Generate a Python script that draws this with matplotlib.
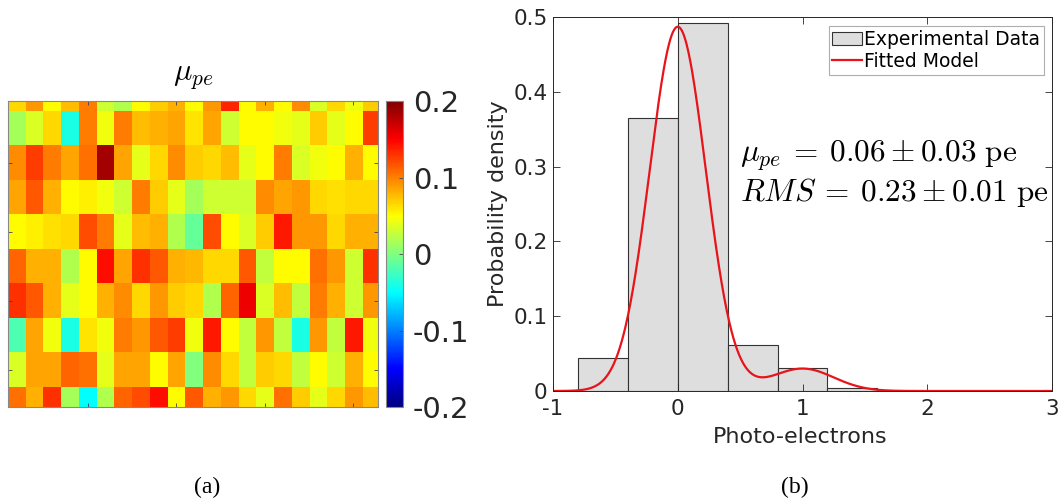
import numpy as np
import matplotlib
matplotlib.use("Agg")
import matplotlib.pyplot as plt
from matplotlib.colors import LinearSegmentedColormap
from matplotlib.patches import Patch
from matplotlib.lines import Line2D

plt.rcParams['font.family'] = ['DejaVu Sans']
plt.rcParams['mathtext.fontset'] = 'cm'

# per-pixel mean photo-electrons (10 rows x 21 columns)
mu_map = [
    [0.065, 0.090, 0.050, 0.075, 0.100, 0.030, 0.020, 0.050, 0.070, 0.080, 0.050, 0.090, 0.135, 0.050, 0.080, 0.050, 0.095, 0.035, 0.065, 0.045, 0.070],
    [0.015, 0.035, 0.065, -0.040, 0.100, 0.045, 0.100, 0.075, 0.080, 0.085, 0.060, 0.085, 0.030, 0.050, 0.050, 0.045, 0.040, 0.070, 0.040, 0.050, 0.125],
    [0.095, 0.125, 0.100, 0.085, 0.105, 0.185, 0.085, 0.040, 0.065, 0.095, 0.070, 0.065, 0.075, 0.040, 0.050, 0.100, 0.035, 0.045, 0.050, 0.080, 0.050],
    [0.085, 0.115, 0.080, 0.050, 0.055, 0.045, 0.030, 0.100, 0.070, 0.040, 0.015, 0.030, 0.030, 0.030, 0.095, 0.085, 0.090, 0.065, 0.062, 0.065, 0.065],
    [0.050, 0.055, 0.062, 0.065, 0.120, 0.100, 0.040, 0.075, 0.080, 0.020, -0.010, 0.120, 0.050, 0.035, 0.070, 0.140, 0.090, 0.090, 0.065, 0.080, 0.080],
    [0.110, 0.080, 0.080, 0.020, 0.050, 0.145, 0.085, 0.130, 0.115, 0.080, 0.078, 0.065, 0.065, 0.115, 0.025, 0.050, 0.050, 0.105, 0.090, 0.030, 0.130],
    [0.130, 0.115, 0.080, 0.040, 0.050, 0.080, 0.095, 0.065, 0.090, 0.070, 0.065, 0.020, 0.110, 0.155, 0.035, 0.075, 0.025, 0.100, 0.080, 0.030, 0.090],
    [-0.020, 0.085, 0.045, -0.040, 0.060, 0.045, 0.100, 0.090, 0.115, 0.125, 0.045, 0.140, 0.050, 0.025, 0.090, 0.025, -0.040, 0.090, 0.025, 0.140, 0.045],
    [0.035, 0.085, 0.085, 0.110, 0.105, 0.040, 0.085, 0.085, 0.050, 0.085, 0.000, 0.095, 0.065, 0.025, 0.070, 0.065, 0.025, 0.050, 0.030, 0.080, 0.050],
    [0.105, 0.080, 0.130, 0.015, -0.050, 0.020, 0.110, 0.120, 0.145, 0.050, 0.115, 0.080, 0.090, 0.065, 0.040, 0.105, 0.070, 0.040, 0.065, 0.090, 0.075],
]

# photo-electron histogram (probability per bin)
bin_edges = [-0.8, -0.4, 0.0, 0.4, 0.8, 1.2, 1.6]
bin_prob = [0.044, 0.365, 0.492, 0.062, 0.031, 0.004]

# fitted model: gaussian peaks for 0 and 1 photo-electron
peak_pos = [0.0, 1.0]
peak_height = [0.487, 0.030]
peak_sigma = [0.225, 0.25]

cbar_ticks = [-0.2, -0.1, 0.0, 0.1, 0.2]
cbar_labels = ['-0.2', '-0.1', '0', '0.1', '0.2']

# matlab-style jet
jet_m = LinearSegmentedColormap.from_list('jet_m', [
    (0.0, (0, 0, 0.5)), (0.125, (0, 0, 1)), (0.375, (0, 1, 1)),
    (0.625, (1, 1, 0)), (0.875, (1, 0, 0)), (1.0, (0.5, 0, 0))])

W, H = 1059, 499
fig = plt.figure(figsize=(W / 100, H / 100), dpi=100)

def px_axes(x0, y0, x1, y1):
    return fig.add_axes([x0 / W, 1 - y1 / H, (x1 - x0) / W, (y1 - y0) / H])

# (a) map
ax1 = px_axes(8, 101, 378, 407)
data = np.array(mu_map)
nr, nc = data.shape
im = ax1.imshow(data, cmap=jet_m, vmin=-0.2, vmax=0.2, aspect='auto',
                interpolation='nearest', extent=(0.5, nc + 0.5, nr - 0.5, -0.5))
ax1.set_xlim(0.5, 21.4)
ax1.set_ylim(9.08, 0.21)
ax1.set_xticks([5, 10, 15, 20])
ax1.set_yticks([2, 4, 6, 8])
ax1.tick_params(direction='in', length=3, width=0.6, top=True, right=True,
                labelbottom=False, labelleft=False, color='#444444')
for s in ax1.spines.values():
    s.set_color('#888888')
    s.set_linewidth(0.8)
ax1.set_title(r'$\mu_{pe}$', fontsize=22, pad=15)

cax = px_axes(386, 101, 403, 407)
cb = fig.colorbar(im, cax=cax, ticks=cbar_ticks)
cb.ax.set_yticklabels(cbar_labels)
cb.ax.tick_params(direction='in', length=3, width=0.6, labelsize=21,
                  pad=7, color='#444444', labelcolor='#262626')
cb.outline.set_edgecolor('#888888')
cb.outline.set_linewidth(0.8)

# (b) histogram + fit
ax2 = px_axes(553, 17, 1052, 391)
lefts = np.array(bin_edges[:-1])
widths = np.diff(bin_edges)
ax2.bar(lefts, bin_prob, width=widths, align='edge', color='#dedede',
        edgecolor='#333333', linewidth=0.8)
xs = np.linspace(-1, 3, 800)
model = np.zeros_like(xs)
for m, h, s in zip(peak_pos, peak_height, peak_sigma):
    model += h * np.exp(-(xs - m) ** 2 / (2 * s ** 2))
ax2.plot(xs, model, color='#e8141a', lw=1.6)

ax2.set_xlim(-1, 3)
ax2.set_ylim(0, 0.5)
ax2.set_xticks([-1, 0, 1, 2, 3])
ax2.set_xticklabels(['-1', '0', '1', '2', '3'])
ax2.set_yticks([0, 0.1, 0.2, 0.3, 0.4, 0.5])
ax2.set_yticklabels(['0', '0.1', '0.2', '0.3', '0.4', '0.5'])
ax2.tick_params(direction='in', length=5, width=0.6, top=True, right=True,
                labelsize=15.5, labelcolor='#262626', color='#262626', pad=4)
ax2.tick_params(axis='x', pad=6)
for s in ax2.spines.values():
    s.set_color('#262626')
    s.set_linewidth(0.7)
ax2.set_xlabel('Photo-electrons', fontsize=16, color='#262626')
ax2.set_ylabel('Probability density', fontsize=16, color='#262626')
ax2.xaxis.set_label_coords(0.495, -0.097)
ax2.yaxis.set_label_coords(-0.09, 0.5)

ax2.text(0.50, 0.315, r'$\mu_{pe} \:=\: 0.06 \pm 0.03\ \mathrm{pe}$', fontsize=22.5,
         va='center', ha='left')
ax2.text(0.50, 0.266, r'$RMS \:=\: 0.23 \pm 0.01\ \mathrm{pe}$', fontsize=22.5,
         va='center', ha='left')

handles = [Patch(facecolor='#dedede', edgecolor='#333333', linewidth=0.8),
           Line2D([], [], color='#e8141a', lw=1.6)]
leg = ax2.legend(handles, ['Experimental Data', 'Fitted Model'], loc='upper right',
                 bbox_to_anchor=(0.984, 0.975), fontsize=13.5, frameon=True,
                 fancybox=False, borderpad=0.2, handlelength=1.6,
                 handletextpad=0.1, labelspacing=0.15, borderaxespad=0)
leg.get_frame().set_edgecolor('#9a9a9a')
leg.get_frame().set_linewidth(0.8)

fig.text(207 / W, 1 - 487 / H, '(a)', family='Liberation Serif', fontsize=17,
         ha='center', va='center')
fig.text(795 / W, 1 - 487 / H, '(b)', family='Liberation Serif', fontsize=17,
         ha='center', va='center')

fig.savefig('out.png', dpi=100)
